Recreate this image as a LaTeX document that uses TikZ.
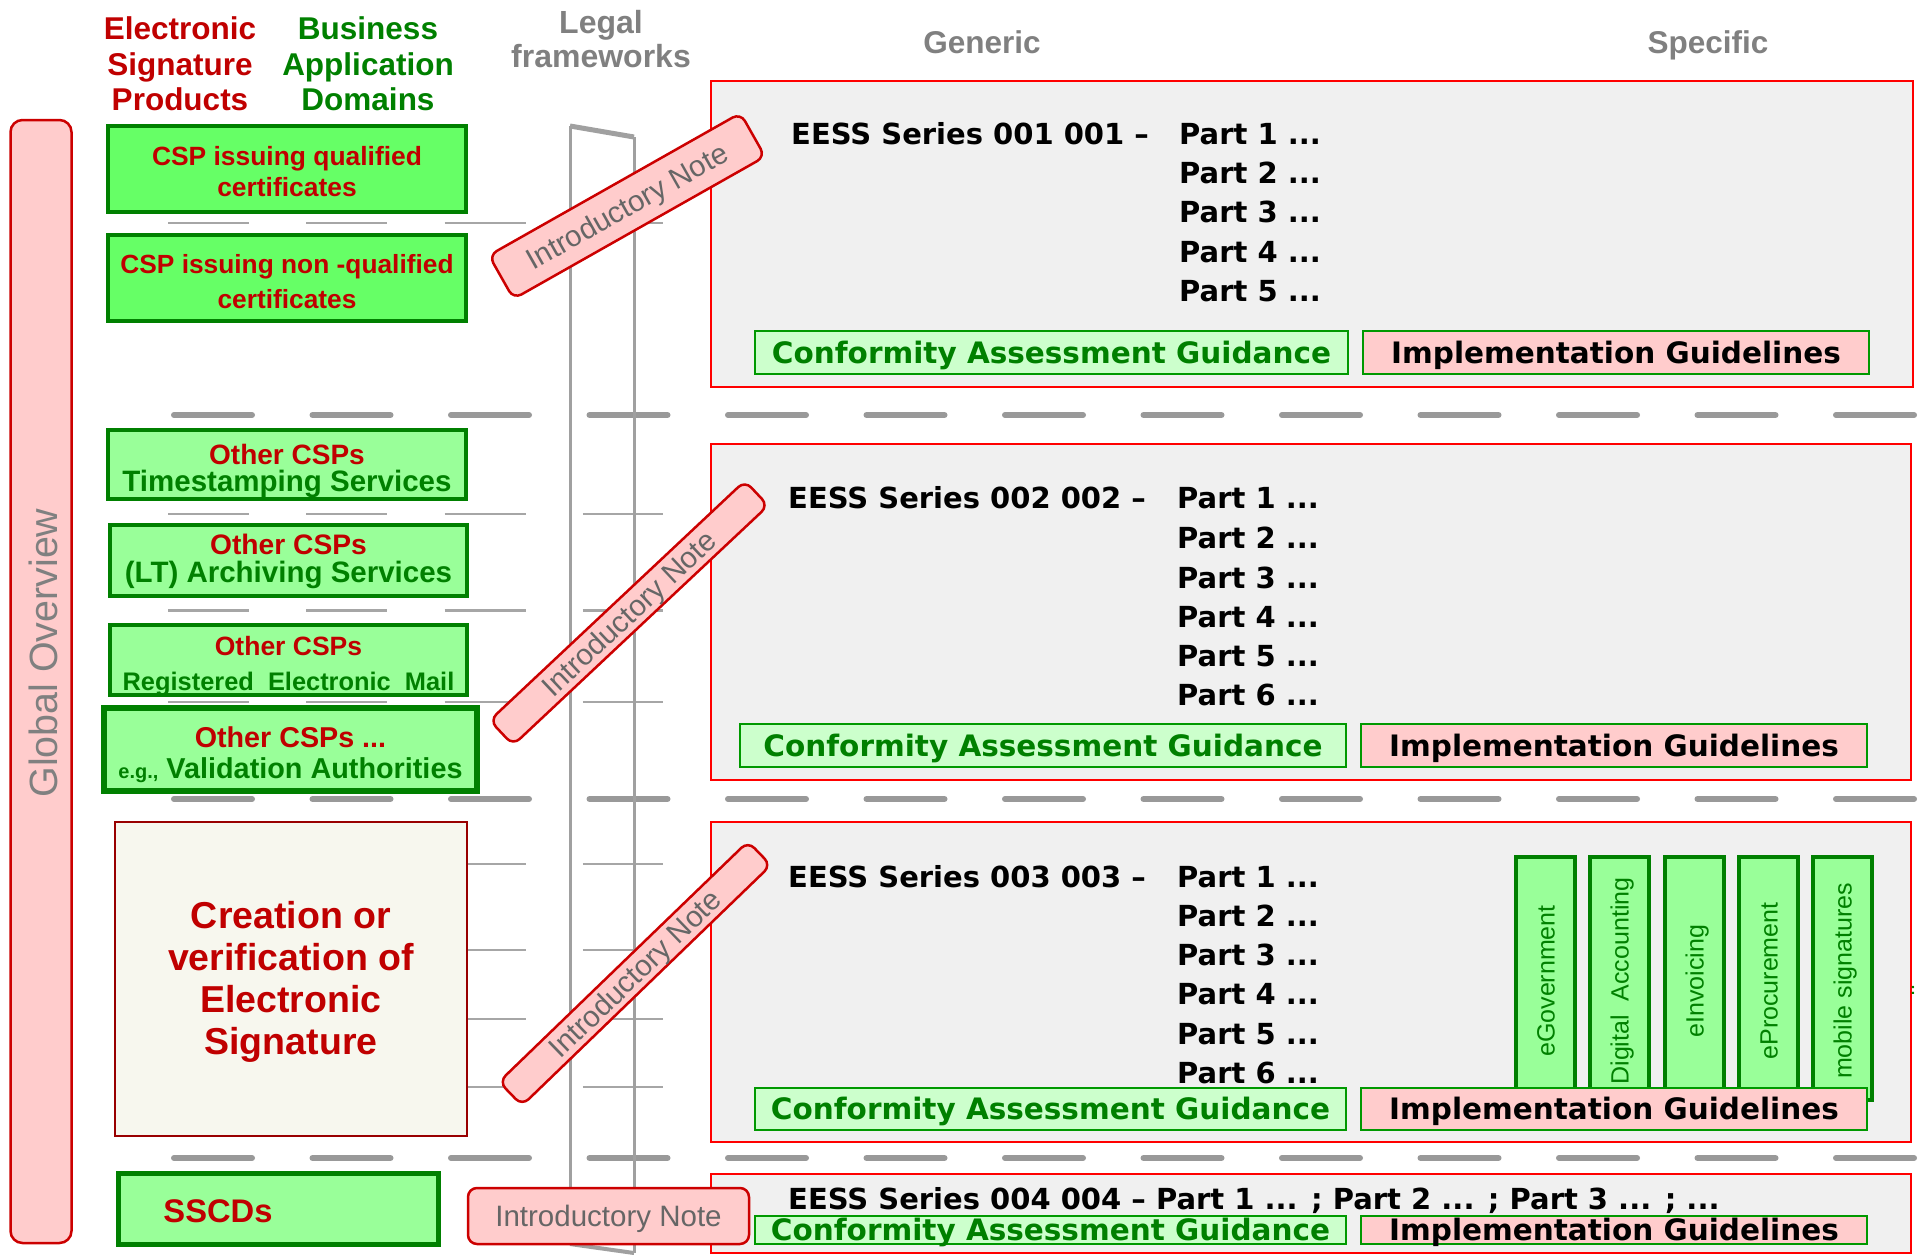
\documentclass[tikz,border=0pt]{standalone}
\usepackage{fontspec}
\setmainfont{Liberation Sans}
\newfontfamily\dvs{DejaVu Sans}
\newcommand\fsz[2]{\fontsize{#1}{#2}\selectfont}
\definecolor{tred}{HTML}{C00000}
\definecolor{tgreen}{HTML}{008000}
\definecolor{bgreen}{HTML}{66FF66}
\definecolor{lgreen}{HTML}{99FF99}
\definecolor{pgreen}{HTML}{CCFFCC}
\definecolor{cagline}{HTML}{009900}
\definecolor{notepink}{HTML}{FFCCCC}
\definecolor{notered}{HTML}{CC0000}
\definecolor{boxgray}{HTML}{F0F0F0}
\definecolor{boxred}{HTML}{FF0000}
\definecolor{sepgray}{HTML}{999999}
\definecolor{thingray}{HTML}{A6A6A6}
\definecolor{framegray}{HTML}{A0A0A0}
\definecolor{hdrgray}{HTML}{808080}
\definecolor{notetext}{HTML}{666666}
\definecolor{cream}{HTML}{F7F7EE}
\definecolor{dred}{HTML}{990000}
\tikzset{
 every node/.style={inner sep=0pt},
 septhick/.style={draw=sepgray, line width=6pt, line cap=round, dash pattern=on 78pt off 60.5pt},
 septhin/.style={draw=thingray, line width=2.2pt, dash pattern=on 81pt off 57.3pt},
 frameline/.style={draw=framegray, line width=3pt},
 lboxA/.style={draw=tgreen, line width=4.5pt, fill=bgreen},
 lboxB/.style={lboxA, fill=lgreen},
 ltext/.style={align=center, text=tred},
 cbox/.style={draw=dred, line width=2.5pt, fill=cream},
 gobar/.style={draw=notered, line width=2.5pt, fill=notepink, rounded corners=12pt},
 gbox/.style={draw=boxred, line width=2.5pt, fill=boxgray},
 cag/.style={draw=cagline, line width=2.5pt, fill=pgreen, text=tgreen, font=\dvs\bfseries\fsz{29.5}{35}, text height=21.5pt, text depth=0pt},
 ig/.style={cag, fill=notepink, text=black},
 vbar/.style={draw=tgreen, line width=4pt, fill=lgreen, minimum width=59, minimum height=243},
 vlab/.style={rotate=90, text=tgreen, font=\fsz{25}{30}, text height=18pt, text depth=0pt},
 note/.style={draw=notered, line width=2.5pt, fill=notepink, rounded corners=9pt, text=notetext, font=\fsz{29.5}{35}, text height=21pt, text depth=0pt},
 eess/.style={font=\dvs\bfseries\fsz{29}{35}, anchor=base west},
 hdr/.style={font=\bfseries\fsz{31.5}{35.3}, align=center},
 hdrone/.style={font=\bfseries\fsz{31.5}{35.3}, text=hdrgray, text height=22.6pt, text depth=0pt},
}
\begin{document}
\begin{tikzpicture}[x=1pt,y=-1pt]
\path[use as bounding box, fill=white] (0,0) rectangle (1922,1255);

% separators
\foreach \yy in {223,513.6,610.5,702,864,950,1018.6,1087.3}
  \draw[septhin] (168,\yy) -- (663,\yy);
\foreach \yy in {415,799,1158}
  \draw[septhick] (174,\yy) -- (1917,\yy);

% legal frameworks frame
\coordinate (ftl) at (570,126);
\coordinate (ftr) at (634,137);
\coordinate (fbl) at (570,1244);
\coordinate (fbr) at (634,1253);
\draw[frameline] (ftl) -- (fbl);
\draw[frameline] (ftr) -- (fbr);
\draw[frameline, line width=5pt] (ftl) -- (ftr);
\draw[frameline, line width=4pt] (fbl) -- (fbr);

% headers
\node[hdr, text=tred] (hesp) at (180,64) {Electronic\\Signature\\Products};
\node[hdr, text=tgreen] (hbad) at (368,64) {Business\\Application\\Domains};
\node[hdr, text=hdrgray, font=\bfseries\fsz{32}{34.4}] (hlegal) at (601,39) {Legal\\frameworks};
\node[hdrone] (hgen) at (982,42.5) {Generic};
\node[hdrone] (hspec) at (1708,42.5) {Specific};

% global overview bar
\node[gobar, minimum width=61, minimum height=1123] (gobar) at (41,681.5) {};
\node[rotate=90, text=hdrgray, font=\fsz{39.4}{45}, text height=28pt, text depth=0pt] (gotxt) at (43,653) {Global Overview};

% left boxes
\node[lboxA, minimum width=358, minimum height=86] (csp1) at (287,169) {};
\node[ltext, font=\bfseries\fsz{26.4}{30.6}] (csp1t) at (287,171.5) {CSP issuing qualified\\certificates};
\node[lboxA, minimum width=358, minimum height=86] (csp2) at (287,278) {};
\node[ltext, font=\bfseries\fsz{26.3}{35.5}] (csp2t) at (287,281.7) {CSP issuing non -qualified\\certificates};
\node[lboxB, minimum width=358, minimum height=69] (tsp) at (287,464.5) {};
\node[ltext, font=\bfseries\fsz{28}{27}] (tspt) at (287,470.8)
  {Other CSPs\\{\color{tgreen}\fsz{29.5}{27}Timestamping Services}};
\node[lboxB, minimum width=357, minimum height=71] (arch) at (288.5,560.5) {};
\node[ltext, font=\bfseries\fsz{28.2}{28}] (archt) at (288.5,561.7)
  {Other CSPs\\{\color{tgreen}\fsz{29.5}{28}(LT) Archiving Services}};
\node[lboxB, minimum width=357, minimum height=70] (rem) at (288.5,660) {};
\node[ltext, font=\bfseries\fsz{26.5}{35}] (remt) at (288.5,666)
  {Other CSPs\\{\color{tgreen}\fsz{25.4}{35}Registered\ \ Electronic\ \ Mail}};
\node[lboxB, line width=6pt, minimum width=373, minimum height=83] (va) at (290.5,749.5) {};
\node[ltext, font=\bfseries\fsz{28.7}{31}] (vat) at (290.5,754.5)
  {Other CSPs ...\\{\color{tgreen}{\fsz{20}{31}e.g.,}\fsz{28.8}{31} Validation Authorities}};
\node[cbox, minimum width=352, minimum height=314] (cre) at (291,979) {};
\node[ltext, font=\bfseries\fsz{37.5}{42}] (cret) at (291,982)
  {Creation or\\verification of\\Electronic\\Signature};
\node[lboxB, line width=5pt, minimum width=320, minimum height=71] (sscd) at (278,1208.5) {};
\node[text=tred, font=\bfseries\fsz{32.7}{36}, text height=23.4pt, text depth=0pt] (sscdt) at (218,1211) {SSCDs};

% right series boxes
\node[gbox, minimum width=1202, minimum height=306] (sA) at (1312,234) {};
\node[gbox, minimum width=1200, minimum height=336] (sB) at (1311,612) {};
\node[gbox, minimum width=1200, minimum height=320] (sC) at (1311,982) {};
\node[gbox, minimum width=1200, minimum height=79] (sD) at (1311,1213.5) {};

% series A
\node[eess] (eA) at (791,144) {EESS Series 001 001 –};
\foreach \i/\yy in {1/144,2/183.4,3/222.6,4/262,5/301}
  \node[eess] (pA\i) at (1179,\yy) {Part \i\ ...};
\node[cag, minimum width=593, minimum height=43] (cagA) at (1051.5,352.5) {Conformity Assessment Guidance};
\node[ig, minimum width=506, minimum height=43] (igA) at (1616,352.5) {Implementation Guidelines};

% series B
\node[eess] (eB) at (788,508) {EESS Series 002 002 –};
\foreach \i/\yy in {1/508,2/548.5,3/588,4/627,5/666.5,6/705.5}
  \node[eess] (pB\i) at (1177,\yy) {Part \i\ ...};
\node[cag, minimum width=606, minimum height=43] (cagB) at (1043,745.5) {Conformity Assessment Guidance};
\node[ig, minimum width=506, minimum height=43] (igB) at (1614,745.5) {Implementation Guidelines};

% series C
\node[eess] (eC) at (788,887) {EESS Series 003 003 –};
\foreach \i/\yy in {1/887,2/926,3/965.5,4/1004.6,5/1044,6/1083}
  \node[eess] (pC\i) at (1177,\yy) {Part \i\ ...};
\foreach \n/\xx/\lab in {1/1545.5/eGovernment,2/1619.5/Digital\ \ Accounting,3/1694.5/eInvoicing,4/1768.5/eProcurement,5/1842.5/mobile signatures}{
  \node[vbar] (vb\n) at (\xx,978.5) {};
  \node[vlab] (vl\n) at (\xx,981) {\lab};
}
\node[cag, minimum width=591, minimum height=42] (cagC) at (1050.5,1109) {Conformity Assessment Guidance};
\node[ig, minimum width=506, minimum height=42] (igC) at (1614,1109) {Implementation Guidelines};
\node[text=tgreen, font=\bfseries\fsz{16}{16}] (dots) at (1913,990) {:};

% series D
\node[eess] (eD) at (788,1209.5) {EESS Series 004 004 – Part 1 ... ; Part 2 ... ; Part 3 ... ; ...};
\node[cag, minimum width=591, minimum height=28] (cagD) at (1050.5,1230) {Conformity Assessment Guidance};
\node[ig, minimum width=506, minimum height=28] (igD) at (1614,1230) {Implementation Guidelines};

% introductory notes
\node[note, rotate=29.5, minimum width=289, minimum height=50] (n1) at (627,206) {Introductory Note};
\node[note, rotate=43.2, minimum width=350, minimum height=34] (n2) at (629,613) {Introductory Note};
\node[note, rotate=44, minimum width=346, minimum height=33] (n3) at (635,973.5) {Introductory Note};
\node[note, minimum width=281, minimum height=56] (n4) at (608.5,1216) {Introductory Note};
\end{tikzpicture}
\end{document}
